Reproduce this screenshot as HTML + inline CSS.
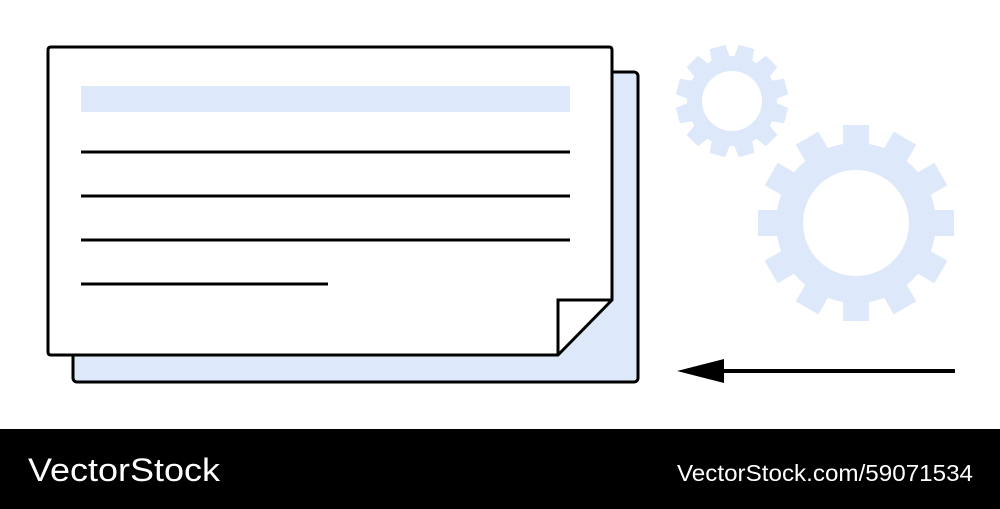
<!DOCTYPE html>
<html><head><meta charset="utf-8"><style>
html,body{margin:0;padding:0;background:#fff;width:1000px;height:509px;overflow:hidden}
svg{display:block}
</style></head><body>
<svg width="1000" height="509" viewBox="0 0 1000 509" xmlns="http://www.w3.org/2000/svg">
<rect width="1000" height="509" fill="#fff"/>
<rect x="73" y="72" width="565" height="310" rx="4" fill="#dde8fa" stroke="#000" stroke-width="3"/>
<path d="M51,47 H609 Q612,47 612,50 V300 L558,355 H51 Q48,355 48,352 V50 Q48,47 51,47 Z" fill="#fff" stroke="#000" stroke-width="3" stroke-linejoin="round"/>
<path d="M558,355 V300 H612" fill="none" stroke="#000" stroke-width="3"/>
<rect x="81" y="86" width="489" height="26" fill="#dde8fa"/>
<g stroke="#000" stroke-width="3">
<line x1="81" y1="152" x2="570" y2="152"/>
<line x1="81" y1="196" x2="570" y2="196"/>
<line x1="81" y1="240" x2="570" y2="240"/>
<line x1="81" y1="284" x2="328" y2="284"/>
<line x1="715" y1="371" x2="955" y2="371" stroke-width="4"/>
</g>
<polygon points="677,371 724,359 724,383" fill="#000"/>
<g transform="translate(732,101)" fill="#dde8fa">
<circle r="45"/>
<polygon points="-8,-56 8,-56 10,-38 -10,-38" transform="rotate(15)"/>
<polygon points="-8,-56 8,-56 10,-38 -10,-38" transform="rotate(45)"/>
<polygon points="-8,-56 8,-56 10,-38 -10,-38" transform="rotate(75)"/>
<polygon points="-8,-56 8,-56 10,-38 -10,-38" transform="rotate(105)"/>
<polygon points="-8,-56 8,-56 10,-38 -10,-38" transform="rotate(135)"/>
<polygon points="-8,-56 8,-56 10,-38 -10,-38" transform="rotate(165)"/>
<polygon points="-8,-56 8,-56 10,-38 -10,-38" transform="rotate(195)"/>
<polygon points="-8,-56 8,-56 10,-38 -10,-38" transform="rotate(225)"/>
<polygon points="-8,-56 8,-56 10,-38 -10,-38" transform="rotate(255)"/>
<polygon points="-8,-56 8,-56 10,-38 -10,-38" transform="rotate(285)"/>
<polygon points="-8,-56 8,-56 10,-38 -10,-38" transform="rotate(315)"/>
<polygon points="-8,-56 8,-56 10,-38 -10,-38" transform="rotate(345)"/>
<circle r="30" fill="#fff"/>
</g>
<g transform="translate(856,223)" fill="#dde8fa">
<circle r="80"/>
<rect x="-13" y="-98" width="26" height="30" transform="rotate(0)"/>
<rect x="-13" y="-98" width="26" height="30" transform="rotate(30)"/>
<rect x="-13" y="-98" width="26" height="30" transform="rotate(60)"/>
<rect x="-13" y="-98" width="26" height="30" transform="rotate(90)"/>
<rect x="-13" y="-98" width="26" height="30" transform="rotate(120)"/>
<rect x="-13" y="-98" width="26" height="30" transform="rotate(150)"/>
<rect x="-13" y="-98" width="26" height="30" transform="rotate(180)"/>
<rect x="-13" y="-98" width="26" height="30" transform="rotate(210)"/>
<rect x="-13" y="-98" width="26" height="30" transform="rotate(240)"/>
<rect x="-13" y="-98" width="26" height="30" transform="rotate(270)"/>
<rect x="-13" y="-98" width="26" height="30" transform="rotate(300)"/>
<rect x="-13" y="-98" width="26" height="30" transform="rotate(330)"/>
<circle r="53" fill="#fff"/>
</g>
<rect x="0" y="429" width="1000" height="80" fill="#000"/>
<text x="28" y="481" fill="#fff" font-family="Liberation Sans, sans-serif" font-size="32" textLength="192" lengthAdjust="spacingAndGlyphs">VectorStock</text>
<text x="677" y="481" fill="#fff" font-family="Liberation Sans, sans-serif" font-size="23" textLength="296" lengthAdjust="spacingAndGlyphs">VectorStock.com/59071534</text>
</svg>
</body></html>
